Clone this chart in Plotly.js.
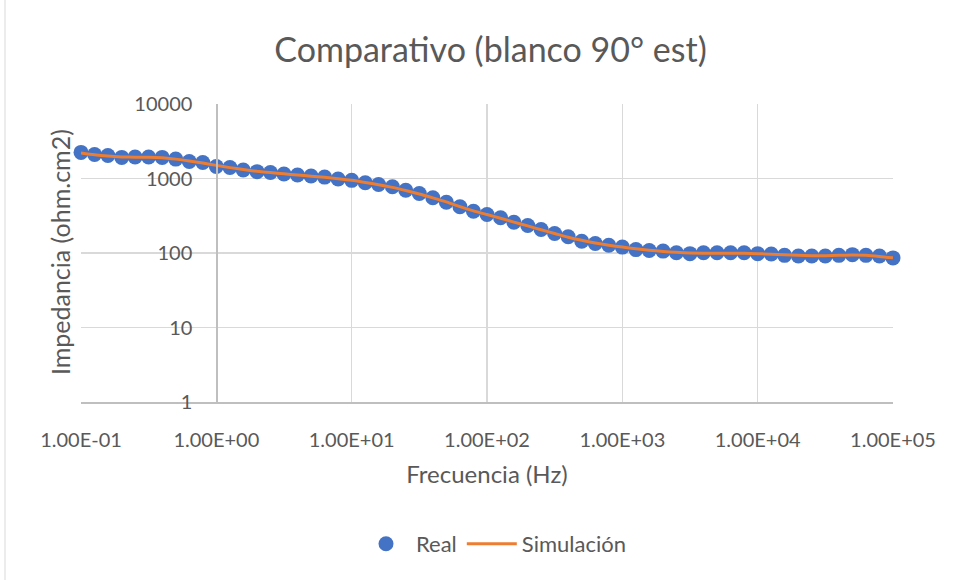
<!DOCTYPE html>
<html>
<head>
<meta charset="utf-8">
<script src="https://cdn.plot.ly/plotly-3.0.1.min.js"></script>
<style>
  html, body { margin: 0; padding: 0; background: #ffffff; }
  #chart { width: 958px; height: 580px; }
</style>
</head>
<body>
<div id="chart"></div>
<script>
// Frequencies (Hz)
const frequencies = [
  0.1, 0.126, 0.158, 0.2, 0.251, 0.316, 0.398, 0.501, 0.631, 0.794,
  1, 1.26, 1.58, 2, 2.51, 3.16, 3.98, 5.01, 6.31, 7.94,
  10, 12.6, 15.8, 20, 25.1, 31.6, 39.8, 50.1, 63.1, 79.4,
  100, 126, 158, 200, 251, 316, 398, 501, 631, 794,
  1000, 1260, 1580, 2000, 2510, 3160, 3980, 5010, 6310, 7940,
  10000, 12600, 15800, 20000, 25100, 31600, 39800, 50100, 63100, 79400,
  100000
];

// Measured impedance (ohm.cm2)
const realValues = [
  2240, 2100, 2040, 1920, 1940, 1940, 1920, 1820, 1690, 1640,
  1450, 1405, 1300, 1235, 1205, 1150, 1115, 1080, 1045, 985,
  945, 875, 830, 775, 697, 629, 551, 481, 417, 364,
  329, 297, 259, 234, 207, 183, 165, 144, 134, 127,
  120, 111, 108, 106, 101, 98, 101, 101, 101, 101,
  98, 97, 93, 91, 91, 91, 93, 95, 93, 91,
  86
];

// Simulated impedance (ohm.cm2)
const simValues = [
  2200, 2080, 2000, 1950, 1930, 1930, 1900, 1820, 1720, 1610,
  1500, 1400, 1320, 1250, 1200, 1155, 1115, 1075, 1040, 995,
  945, 885, 825, 760, 690, 620, 550, 485, 420, 368,
  328, 293, 260, 231, 205, 183, 163, 148, 136, 127,
  120, 114, 109, 105, 102, 100, 99.5, 99.5, 99.5, 99,
  98, 96.5, 94.5, 93, 92, 92, 93, 94, 93, 90,
  86
];

const xTickVals = [0.1, 1, 10, 100, 1000, 10000, 100000];
const xTickText = ["1.00E-01", "1.00E+00", "1.00E+01", "1.00E+02", "1.00E+03", "1.00E+04", "1.00E+05"];
const yTickVals = [1, 10, 100, 1000, 10000];
const yTickText = ["1", "10", "100", "1000", "10000"];

const seriesNames = ["Real", "Simulación"];
const titleText = "Comparativo (blanco 90° est)";
const xTitle = "Frecuencia (Hz)";
const yTitle = "Impedancia (ohm.cm2)";

const FONT = "Lato, 'Open Sans', sans-serif";
const TXT = "#595959";

const traces = [
  {
    x: frequencies, y: realValues, name: seriesNames[0],
    type: "scatter", mode: "markers",
    marker: { color: "#4472C4", size: 15 },
    cliponaxis: false
  },
  {
    x: frequencies, y: simValues, name: seriesNames[1],
    type: "scatter", mode: "lines",
    line: { color: "#ED7D31", width: 3, shape: "spline", smoothing: 0.6 },
    cliponaxis: false
  }
];

const layout = {
  width: 958, height: 580,
  margin: { l: 81, r: 65, t: 104, b: 178 },
  paper_bgcolor: "#ffffff", plot_bgcolor: "#ffffff",
  font: { family: FONT, color: TXT, size: 20 },
  title: {
    text: titleText,
    font: { family: FONT, size: 34, color: TXT },
    x: 0.512, xref: "container", xanchor: "center",
    y: 1 - 50 / 580, yref: "container", yanchor: "middle"
  },
  xaxis: {
    type: "log", range: [-1, 5],
    tickvals: xTickVals, ticktext: xTickText,
    showgrid: true, gridcolor: "#D9D9D9", gridwidth: 1.5,
    showline: true, linecolor: "#BFBFBF", linewidth: 1.5,
    ticks: "outside", ticklen: 19, tickcolor: "rgba(0,0,0,0)",
    tickfont: { family: FONT, size: 20, color: TXT },
    zeroline: false,
    title: { text: xTitle, font: { family: FONT, size: 24, color: TXT }, standoff: 16 }
  },
  yaxis: {
    type: "log", range: [0, 4],
    anchor: "free", position: 1 / 6,
    tickvals: yTickVals, ticktext: yTickText,
    showgrid: true, gridcolor: "#D9D9D9", gridwidth: 1.5,
    showline: true, linecolor: "#BFBFBF", linewidth: 1.5,
    ticks: "outside", ticklen: 20, tickcolor: "rgba(0,0,0,0)",
    tickfont: { family: FONT, size: 20, color: TXT },
    zeroline: false
  },
  annotations: [
    {
      text: yTitle, textangle: -90,
      xref: "paper", yref: "paper",
      x: (60 - 81) / 812, y: 0.503,
      xanchor: "center", yanchor: "middle", showarrow: false,
      font: { family: FONT, size: 25, color: TXT }
    }
  ],
  shapes: [
    {
      type: "line", xref: "paper", yref: "paper",
      x0: (5 - 81) / 812, x1: (5 - 81) / 812,
      y0: -178 / 298, y1: 402 / 298,
      line: { color: "#D9D9D9", width: 1 }
    }
  ],
  showlegend: true,
  legend: {
    orientation: "h",
    x: 0.508, xanchor: "center",
    y: (402 - 544) / 298, yanchor: "middle",
    itemwidth: 50,
    font: { family: FONT, size: 22, color: TXT },
    bgcolor: "rgba(0,0,0,0)"
  }
};

Plotly.newPlot("chart", traces, layout, { displayModeBar: false, staticPlot: true });
</script>
</body>
</html>
